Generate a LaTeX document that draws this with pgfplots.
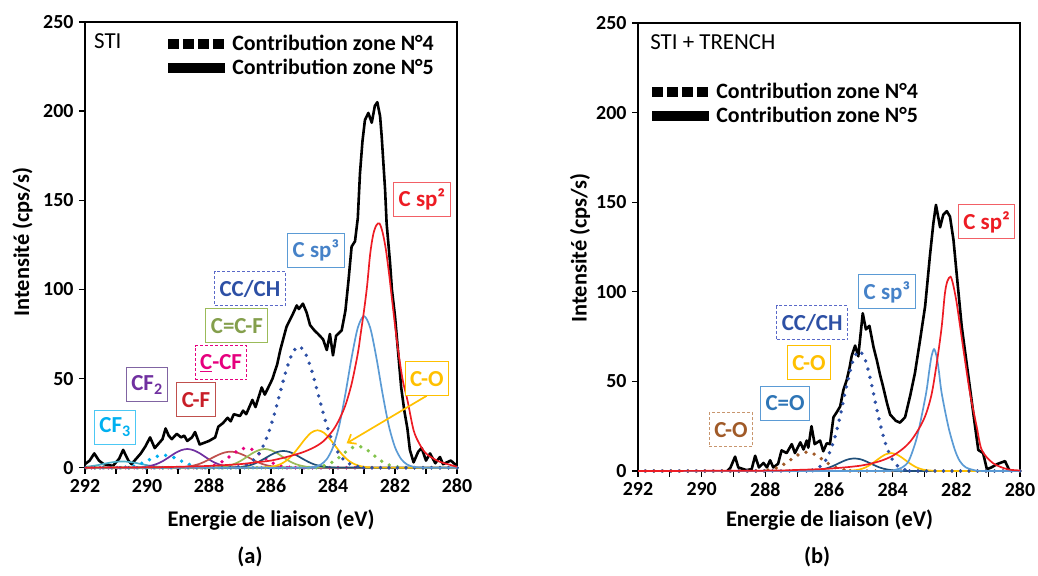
\documentclass[border=0pt]{standalone}
\usepackage{pgfplots}
\pgfplotsset{compat=1.18}
\usetikzlibrary{arrows.meta}
\usepackage{fontspec}
\setmainfont{Carlito}
\definecolor{cred}{RGB}{237,28,36}
\definecolor{csp3}{RGB}{91,155,213}
\definecolor{csp3t}{RGB}{70,130,200}
\definecolor{ccch}{RGB}{45,80,165}
\definecolor{ccchb}{RGB}{90,105,200}
\definecolor{corange}{RGB}{255,192,0}
\definecolor{cgreen}{RGB}{155,187,89}
\definecolor{cgreendot}{RGB}{130,195,75}
\definecolor{cnavy}{RGB}{31,78,121}
\definecolor{cmag}{RGB}{230,0,126}
\definecolor{cbrick}{RGB}{192,80,77}
\definecolor{cbrickt}{RGB}{200,30,40}
\definecolor{cpurple}{RGB}{112,48,160}
\definecolor{cpurpleb}{RGB}{128,100,162}
\definecolor{ccyan}{RGB}{0,176,240}
\definecolor{cteal}{RGB}{75,172,198}
\definecolor{cbrown}{RGB}{160,90,40}
\definecolor{cbrownb}{RGB}{200,150,110}
\definecolor{ccot}{RGB}{46,117,182}
\tikzset{
  blk/.style={black, line width=2.6bp, line join=round},
  comp/.style={line width=1.7bp, smooth, tension=0.5},
  dots/.style={line width=3.8bp, line cap=round, dash pattern=on 0bp off 8.5bp, smooth, tension=0.5},
  lab/.style={draw=#1, line width=1bp, fill=white, font=\bfseries\fontsize{23}{23}\selectfont,
     inner xsep=5bp, inner ysep=0bp, minimum height=34bp},
  bigtxt/.style={font=\bfseries\fontsize{22.5}{22.5}\selectfont},
}
\pgfplotsset{
  xpsaxis/.style={
    scale only axis, clip=false,
    x dir=reverse, xmin=280, xmax=292, ymin=0, ymax=250,
    xtick={280,282,...,292}, ytick={0,50,...,250},
    minor x tick num=1,
    xtick pos=bottom, ytick pos=left, tick align=outside,
    major tick length=6bp, minor tick length=6bp,
    every tick/.style={black, line width=1.3bp},
    axis line style={line width=1.8bp},
    ticklabel style={font=\bfseries\fontsize{20}{20}\selectfont},
    xticklabel style={yshift=-2bp},
    yticklabel style={xshift=-2bp},
    /pgf/number format/assume math mode=true,
    legend cell align=left,
  },
  legimgA/.style={legend image code/.code={\draw[line width=10bp, dash pattern=on 11bp off 4bp] (0bp,0bp) -- (57bp,0bp);}},
  legimgB/.style={legend image code/.code={\draw[line width=10bp] (0bp,0bp) -- (57bp,0bp);}},
}
\begin{document}
\begin{tikzpicture}
\path[use as bounding box] (0bp,0bp) rectangle (1038bp,576bp);
% ================= (a) =================
\begin{axis}[xpsaxis, at={(85bp,108.3bp)}, anchor=south west, width=372bp, height=445.7bp,
  legend style={draw=none, fill=none, at={(0.21,0.975)}, anchor=north west, inner sep=0pt,
    font=\bfseries\fontsize{22}{22}\selectfont, row sep=3bp}]
\addlegendimage{legimgA}\addlegendentry{Contribution zone N°4}
\addlegendimage{legimgB}\addlegendentry{Contribution zone N°5}
% measured spectrum
\addplot[blk] coordinates {
(292.0,2)(291.85,4)(291.7,8)(291.55,4)(291.4,2)(291.1,1)(290.9,5)(290.77,10)(290.6,4)(290.5,2)
(290.35,5)(290.2,8)(290.05,12)(289.9,17)(289.75,11)(289.6,14)(289.5,16)(289.4,22)(289.3,18)(289.2,16)
(289.04,19)(288.9,17)(288.8,18)(288.7,15)(288.55,17)(288.45,20)(288.3,13)(288.15,14)(288.0,15)(287.8,17)
(287.7,23)(287.55,25)(287.4,28)(287.3,26)(287.2,30)(287.0,29)(286.9,32)(286.8,30)(286.6,38)(286.5,34)
(286.3,45)(286.2,41)(286.03,47)(285.95,50)(285.8,58)(285.7,66)(285.5,79)(285.3,86)(285.17,91)(285.1,89)
(284.97,92)(284.85,87)(284.74,80)(284.6,77)(284.48,75)(284.32,72)(284.2,66)(284.1,75)(284.0,63)(283.9,74)
(283.72,77)(283.6,88)(283.5,105)(283.4,124)(283.29,127)(283.2,140)(283.13,165)(283.05,183)(282.97,195)(282.86,199)
(282.75,193.5)(282.65,203)(282.57,205)(282.48,197)(282.43,186)(282.32,156)(282.27,137)(282.16,115)(282.1,100)(282.0,85)
(281.9,65)(281.8,45)(281.7,32)(281.6,22)(281.52,10)(281.4,3)(281.25,9)(281.14,11)(281.0,4)(280.87,8)
(280.7,2.5)(280.55,6)(280.45,2)(280.2,4)(280.0,1)};
% CF3 solid
\addplot[comp, cteal] coordinates {(280,0)(289.0,0.05)(289.2,0.1)(289.4,0.23)(289.6,0.47)(289.8,0.87)(290.0,1.4)(290.2,2.1)(290.4,2.8)(290.6,3.3)(290.8,3.5)(291.0,3.3)(291.2,2.8)(291.4,2.1)(291.6,1.4)(291.8,0.87)(292.0,0.47)};
% CF3 dotted
\addplot[dots, ccyan] coordinates {(280,0)(287.85,0)(288.05,0.14)(288.25,0.4)(288.45,0.9)(288.65,1.9)(288.85,3.4)(289.05,5.1)(289.25,6.5)(289.45,7)(289.65,6.5)(289.85,5.1)(290.05,3.4)(290.25,1.9)(290.45,0.9)(290.65,0.4)(290.85,0.14)(291.05,0)(292,0)};
% CF2
\addplot[comp, cpurple] coordinates {(280,0)(286.9,0.05)(287.1,0.15)(287.3,0.4)(287.5,1.0)(287.7,2.0)(287.9,3.6)(288.1,5.8)(288.3,8.1)(288.5,9.8)(288.7,10.5)(288.9,9.8)(289.1,8.1)(289.3,5.8)(289.5,3.6)(289.7,2.0)(289.9,1.0)(290.1,0.4)(290.3,0.15)(290.5,0.05)(292,0)};
% C-F
\addplot[comp, cbrick] coordinates {(280,0)(285.3,0.04)(285.5,0.1)(285.7,0.25)(285.9,0.6)(286.1,1.2)(286.3,2.2)(286.5,3.7)(286.7,5.5)(286.9,7.2)(287.1,8.5)(287.3,9)(287.5,8.5)(287.7,7.2)(287.9,5.5)(288.1,3.7)(288.3,2.2)(288.5,1.2)(288.7,0.6)(288.9,0.25)(289.1,0.1)(289.3,0.04)(292,0)};
% C-CF dotted
\addplot[dots, cmag] coordinates {(280,0)(285.2,0)(285.4,0.2)(285.6,0.6)(285.8,1.5)(286.0,3.1)(286.2,5.4)(286.4,8.0)(286.6,10.2)(286.8,11)(287.0,10.2)(287.2,8.0)(287.4,5.4)(287.6,3.1)(287.8,1.5)(288.0,0.6)(288.2,0.2)(288.4,0)(292,0)};
% C=C-F
\addplot[comp, cgreen] coordinates {(280,0)(284.4,0.05)(284.6,0.15)(284.8,0.4)(285.0,1.0)(285.2,2.0)(285.4,3.6)(285.6,5.8)(285.8,8.1)(286.0,9.8)(286.2,10.5)(286.4,9.8)(286.6,8.1)(286.8,5.8)(287.0,3.6)(287.2,2.0)(287.4,1.0)(287.6,0.4)(287.8,0.15)(288.0,0.05)(292,0)};
% navy solid
\addplot[comp, cnavy] coordinates {(280,0)(283.8,0.05)(284.0,0.14)(284.2,0.37)(284.4,0.9)(284.6,1.8)(284.8,3.3)(285.0,5.2)(285.2,7.2)(285.4,8.8)(285.6,9.4)(285.8,8.8)(286.0,7.2)(286.2,5.2)(286.4,3.3)(286.6,1.8)(286.8,0.9)(287.0,0.37)(287.2,0.14)(287.4,0.05)(292,0)};
% green dotted
\addplot[dots, cgreendot] coordinates {(280,0)(281.4,0)(281.6,0.07)(281.8,0.24)(282.0,0.7)(282.2,1.6)(282.4,3.3)(282.6,5.8)(282.8,8.7)(283.0,11.1)(283.2,12)(283.4,11.1)(283.6,8.7)(283.8,5.8)(284.0,3.3)(284.2,1.6)(284.4,0.7)(284.6,0.24)(284.8,0.07)(285.0,0)(292,0)};
% C-O orange
\addplot[comp, corange] coordinates {(280,0)(282.5,0.04)(282.7,0.1)(282.9,0.3)(283.1,0.8)(283.3,1.95)(283.5,4.0)(283.7,7.3)(283.9,11.6)(284.1,16.1)(284.3,19.7)(284.5,21)(284.7,19.7)(284.9,16.1)(285.1,11.6)(285.3,7.3)(285.5,4.0)(285.7,1.95)(285.9,0.8)(286.1,0.3)(286.3,0.1)(286.5,0.04)(292,0)};
% CC/CH dotted
\addplot[dots, ccch] coordinates {(280,0)(282.9,0)(283.1,0.4)(283.3,1.0)(283.5,2.4)(283.7,5.3)(283.9,10.5)(284.1,18.6)(284.3,29.6)(284.5,42.6)(284.7,55.2)(284.9,64.5)(285.1,68)(285.3,64.5)(285.5,55.2)(285.7,42.6)(285.9,29.6)(286.1,18.6)(286.3,10.5)(286.5,5.3)(286.7,2.4)(286.9,1.0)(287.1,0.4)(287.3,0)(292,0)};
% C sp3
\addplot[comp, csp3] coordinates {(280,0)(281.0,0.02)(281.2,0.1)(281.4,0.5)(281.6,1.7)(281.8,4.8)(282.0,11.5)(282.2,23.6)(282.4,41.4)(282.6,61.7)(282.8,78.5)(283.0,85)(283.2,78.5)(283.4,61.7)(283.6,41.4)(283.8,23.6)(284.0,11.5)(284.2,4.8)(284.4,1.7)(284.6,0.5)(284.8,0.1)(285.0,0.02)(292,0)};
% C sp2
\addplot[comp, cred] coordinates {(280.0,0.5)(280.2,1.5)(280.5,3)(280.7,4.5)(281.0,8)(281.2,13)(281.4,21)(281.6,38)(281.75,49)(281.9,66)(282.0,80)(282.1,95)(282.2,110)(282.3,123)(282.4,132)(282.5,137)(282.6,136)(282.7,131)(282.8,120)(282.9,102)(283.0,88)(283.1,76)(283.2,64)(283.4,47)(283.6,35)(283.8,27)(284.0,21)(284.3,15)(284.6,11.5)(285.0,8.5)(285.5,6)(286.0,4)(286.5,3)(287.0,2)(288.0,1)(289.0,0.5)(290.0,0.2)(292.0,0)};
% labels
\node[anchor=west, inner sep=0pt, font=\fontsize{23}{23}\selectfont] at (axis cs:291.71,239) {STI};
\node[lab=cred!70, text=cred] at (axis cs:281.13,150.4) {C sp²};
\node[lab=csp3, text=csp3t] at (axis cs:284.55,121.7) {C sp³};
\node[lab=ccchb, dash pattern=on 3bp off 2bp, text=ccch] at (axis cs:286.68,100.4) {CC/CH};
\node[lab=cgreen, text=cgreen!85!black] at (axis cs:287.10,79.6) {C=C-F};
\node[lab=cmag, dash pattern=on 3bp off 2bp, text=cmag] at (axis cs:287.61,58.8) {\underline{C}-CF};
\node[lab=cpurpleb, text=cpurple] at (axis cs:290.0,46.5) {CF\textsubscript{2}};
\node[lab=cbrick, text=cbrickt] at (axis cs:288.42,38.0) {C-F};
\node[lab=ccyan!70, text=ccyan] at (axis cs:291.03,22.8) {CF\textsubscript{3}};
\node[lab=corange, text=corange] at (axis cs:280.97,49.8) {C-O};
\draw[corange, line width=1.7bp, -{Straight Barb[length=7bp,width=11bp]}] (axis cs:280.98,40.3) -- (axis cs:283.56,13.7);
\end{axis}
% ================= (b) =================
\begin{axis}[xpsaxis, at={(638bp,105bp)}, anchor=south west, width=382bp, height=448bp,
  legend style={draw=none, fill=none, at={(0.024,0.87)}, anchor=north west, inner sep=0pt,
    font=\bfseries\fontsize{22}{22}\selectfont, row sep=3bp}]
\addlegendimage{legimgA}\addlegendentry{Contribution zone N°4}
\addlegendimage{legimgB}\addlegendentry{Contribution zone N°5}
\addplot[blk] coordinates {
(289.2,0)(289.1,1.7)(288.95,8)(288.85,2)(288.6,0.5)(288.43,1)(288.32,8.5)(288.2,2)(288.06,4.5)(287.95,2)
(287.85,6)(287.75,2)(287.6,4)(287.49,11.5)(287.33,10)(287.17,15)(287.07,10)(286.9,16)(286.8,12)(286.7,17)
(286.65,13)(286.55,25)(286.45,15)(286.28,17)(286.18,11)(286.07,15.5)(285.97,15)(285.86,30)(285.75,33)(285.65,36)
(285.55,45)(285.44,51)(285.35,58)(285.29,64)(285.18,70)(285.08,64)(284.94,88)(284.84,79)(284.73,81)(284.6,69)
(284.5,62)(284.4,54)(284.3,47)(284.18,38)(284.08,31.5)(283.9,28)(283.77,27)(283.61,30)(283.45,42)(283.3,54.7)
(283.14,73)(282.98,92)(282.91,105)(282.83,120)(282.72,138.5)(282.64,148.5)(282.51,136)(282.41,143)(282.3,145)(282.2,142)
(282.09,129)(282.0,112)(281.83,80.5)(281.62,52.7)(281.41,24.7)(281.31,11.7)(281.16,10)(281.04,1)(280.9,2)(280.7,4)
(280.47,5.5)(280.35,1)(280.3,0)};
% C-O brown dotted
\addplot[dots, cbrown] coordinates {(280,0)(285.1,0)(285.3,0.2)(285.5,0.6)(285.7,1.4)(285.9,2.9)(286.1,5.1)(286.3,7.6)(286.5,9.7)(286.7,10.5)(286.9,9.7)(287.1,7.6)(287.3,5.1)(287.5,2.9)(287.7,1.4)(287.9,0.6)(288.1,0.2)(288.3,0)(292,0)};
% C=O navy
\addplot[comp, cnavy] coordinates {(280,0)(283.6,0.04)(283.8,0.14)(284.0,0.4)(284.2,0.95)(284.4,1.9)(284.6,3.4)(284.8,5.1)(285.0,6.5)(285.2,7)(285.4,6.5)(285.6,5.1)(285.8,3.4)(286.0,1.9)(286.2,0.95)(286.4,0.4)(286.6,0.14)(286.8,0.04)(292,0)};
% C-O orange
\addplot[comp, corange] coordinates {(280,0)(282.45,0.02)(282.65,0.07)(282.85,0.3)(283.05,0.8)(283.25,2.0)(283.45,4.1)(283.65,6.7)(283.85,9.05)(284.05,10)(284.25,9.05)(284.45,6.7)(284.65,4.1)(284.85,2.0)(285.05,0.8)(285.25,0.3)(285.45,0.07)(285.65,0.02)(292,0)};
% CC/CH dotted
\addplot[dots, ccch] coordinates {(280,0)(283.25,0)(283.45,0.25)(283.65,0.9)(283.85,2.9)(284.05,7.6)(284.25,16.7)(284.45,30.6)(284.65,47.3)(284.85,61.4)(285.05,67)(285.25,61.4)(285.45,47.3)(285.65,30.6)(285.85,16.7)(286.05,7.6)(286.25,2.9)(286.45,0.9)(286.65,0.25)(286.85,0)(292,0)};
% C sp3
\addplot[comp, csp3] coordinates {(280,0)(281.2,0.05)(281.4,0.3)(281.7,2)(281.89,5.5)(282.05,12)(282.25,24.7)(282.46,43.4)(282.55,56)(282.62,64)(282.7,68)(282.78,64)(282.85,56)(282.95,43.4)(283.16,24.7)(283.3,15)(283.5,5.5)(283.7,2)(284.0,0.3)(284.2,0.05)(292,0)};
% C sp2
\addplot[comp, cred] coordinates {(280.0,0.3)(280.4,1)(280.85,4.4)(281.2,11.7)(281.36,24.7)(281.57,43.4)(281.73,62)(281.88,80.5)(282.0,95)(282.1,104)(282.18,108.4)(282.28,106)(282.36,99)(282.46,80.5)(282.6,62)(282.77,43.4)(282.95,32)(283.14,24.7)(283.4,17.5)(283.66,12.7)(284.0,8.5)(284.4,5.5)(285.0,3)(286.0,1.3)(287.0,0.6)(288.0,0.2)(292,0)};
\node[anchor=west, inner sep=0pt, font=\fontsize{23}{23}\selectfont] at (axis cs:291.62,239.4) {STI + TRENCH};
\node[lab=cred!70, text=cred] at (axis cs:281.05,139) {C sp²};
\node[lab=csp3, text=csp3t] at (axis cs:284.18,99.9) {C sp³};
\node[lab=ccchb, dash pattern=on 3bp off 2bp, text=ccch] at (axis cs:286.53,82.6) {CC/CH};
\node[lab=corange, text=corange] at (axis cs:286.63,60.3) {C-O};
\node[lab=csp3, text=ccot] at (axis cs:287.38,37.9) {C=O};
\node[lab=cbrownb, dash pattern=on 3bp off 2bp, text=cbrown] at (axis cs:289.08,22.9) {C-O};
\end{axis}
% axis labels and panel letters
\node[bigtxt, rotate=90] at (22.5bp,334bp) {Intensité (cps/s)};
\node[bigtxt, rotate=90] at (580bp,328bp) {Intensité (cps/s)};
\node[bigtxt] at (271bp,56bp) {Energie de liaison (eV)};
\node[bigtxt] at (829.5bp,56bp) {Energie de liaison (eV)};
\node[bigtxt] at (250bp,19bp) {(a)};
\node[bigtxt] at (817bp,19bp) {(b)};
\end{tikzpicture}
\end{document}
